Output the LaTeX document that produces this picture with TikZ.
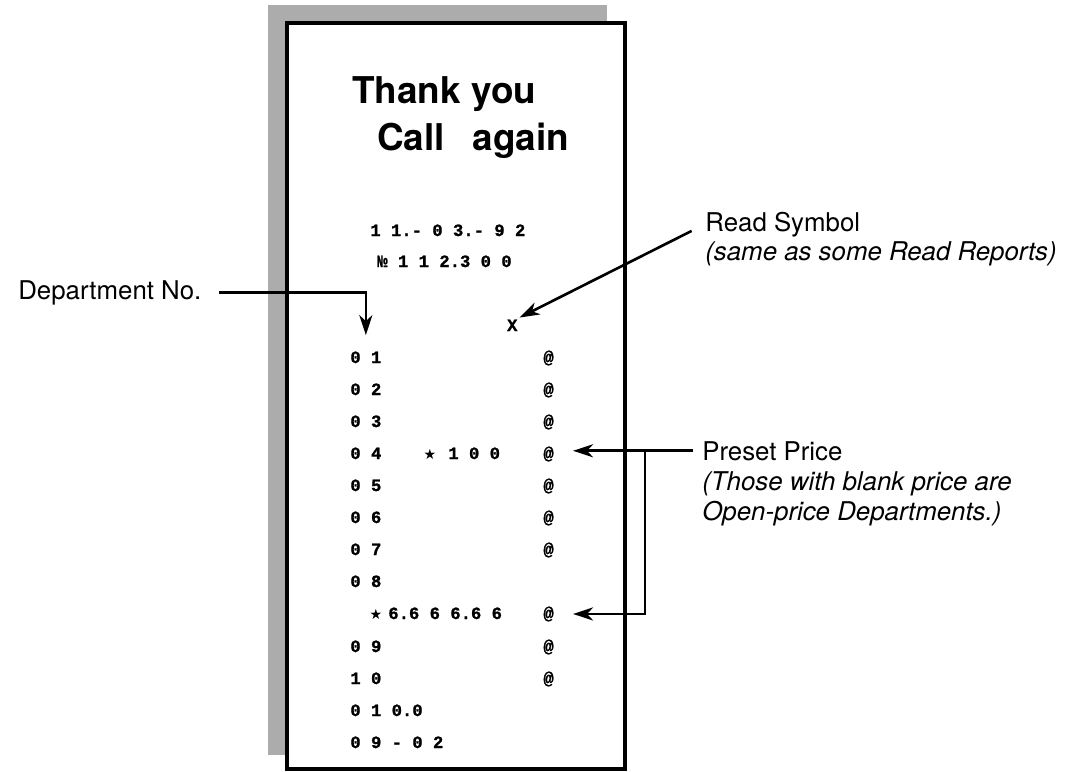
\documentclass[tikz,border=0pt]{standalone}
\usepackage{fontspec}
\setmainfont{TeX Gyre Heros}
\newfontfamily\dotfont[FakeBold=1.2]{Liberation Mono}
\newfontfamily\starfont{DejaVu Sans}
\usetikzlibrary{arrows.meta,positioning,calc}

\begin{document}
\begin{tikzpicture}[x=0.02cm, y=-0.02cm,
  lbl/.style={anchor=base west, inner sep=0pt, font=\fontsize{14.7}{17}\selectfont},
  note/.style={inner sep=0pt, align=left, font=\fontsize{14.7}{17}\selectfont\itshape},
  title/.style={anchor=base west, inner sep=0pt, font=\bfseries\fontsize{21}{25}\selectfont},
  prt/.style={anchor=base west, inner sep=0pt, font=\dotfont\bfseries\fontsize{9.8}{11}\selectfont},
  star/.style={anchor=base, inner sep=0pt, font=\starfont\fontsize{8}{9}\selectfont},
  arr/.style={-{Stealth[length=4mm, width=2.6mm, inset=1.2mm]}, line width=1.5pt}]
\useasboundingbox (0,0) rectangle (1087,771);
% receipt with its shadow
\fill[gray!65] (268,5) rectangle (607,755);
\draw[line width=1.8pt, fill=white] (287,23) rectangle (625,769);
\node[title] (thanks) at (352,103) {Thank you};
\node[title] (again) at (377,150) {Call\hspace{0.75em}again};
\node[prt] (date) at (370,236) {1 1.- 0 3.- 9 2};
\node[prt] (serial) at (377,267) {№ 1 1 2.3 0 0};
\node[prt, inner sep=1pt] (xmark) at (505,331) {X};
\node[prt] (r01) at (350,363) {0 1};
\node[prt] (r02) at (350,395) {0 2};
\node[prt] (r03) at (350,427) {0 3};
\node[prt] (r04) at (350,459) {0 4};
\node[star] (s04) at (430,459) {★};
\node[prt] (p04) at (448,459) {1 0 0};
\node[prt] (r05) at (350,491) {0 5};
\node[prt] (r06) at (350,523) {0 6};
\node[prt] (r07) at (350,555) {0 7};
\node[prt] (r08) at (350,587) {0 8};
\node[star] (sstar) at (376,619) {★};
\node[prt] (pstar) at (388,619) {6.6 6 6.6 6};
\node[prt] (r09) at (350,652) {0 9};
\node[prt] (r10) at (350,684) {1 0};
\node[prt] (rsum) at (350,716) {0 1 0.0};
\node[prt] (rend) at (350,748) {0 9 - 0 2};
\node[prt] (at01) at (543,363) {@};
\node[prt] (at02) at (543,395) {@};
\node[prt] (at03) at (543,427) {@};
\node[prt] (at04) at (543,459) {@};
\node[prt] (at05) at (543,491) {@};
\node[prt] (at06) at (543,523) {@};
\node[prt] (at07) at (543,555) {@};
\node[prt] (atstar) at (543,619) {@};
\node[prt] (at09) at (543,652) {@};
\node[prt] (at10) at (543,684) {@};
% callouts
\node[lbl] (deptlbl) at (18,299) {Department No.};
\node[lbl] (readlbl) at (705,231) {Read Symbol};
\node[note, below=0.09cm of readlbl.south west, anchor=north west] (readnote) {(same as some Read Reports)};
\node[lbl] (presetlbl) at (702,460) {Preset Price};
\node[note, below=0.22cm of presetlbl.south west, anchor=north west] (presetnote) {(Those with blank price are\\Open-price Departments.)};
\path (presetlbl.west) ++(-57,0) coordinate (branch);
\draw[arr, shorten <=0.34cm, shorten >=0.32cm] (deptlbl.east) -| (r01.north);
\draw[arr, shorten <=0.3cm] (readlbl.west) -- (xmark.north east);
\draw[arr, shorten <=0.18cm, shorten >=0.38cm] (presetlbl.west) -- (presetlbl.west -| at04.east);
\draw[arr, shorten >=0.38cm] (branch) |- (atstar.east);
\end{tikzpicture}
\end{document}
